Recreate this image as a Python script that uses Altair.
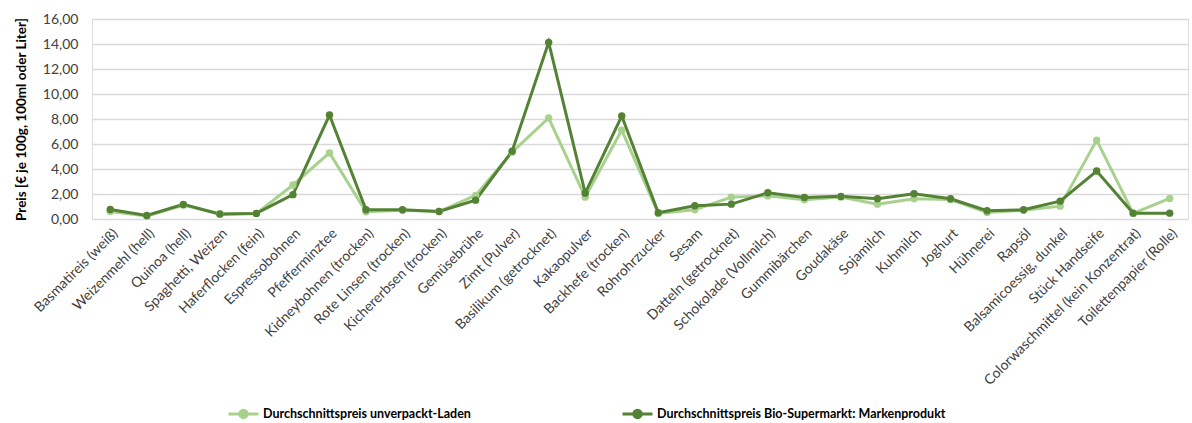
import altair as alt
import pandas as pd

categories = [
    "Basmatireis (weiß)", "Weizenmehl (hell)", "Quinoa (hell)", "Spaghetti, Weizen",
    "Haferflocken (fein)", "Espressobohnen", "Pfefferminztee", "Kidneybohnen (trocken)",
    "Rote Linsen (trocken)", "Kichererbsen (trocken)", "Gemüsebrühe", "Zimt (Pulver)",
    "Basilikum (getrocknet)", "Kakaopulver", "Backhefe (trocken)", "Rohrohrzucker",
    "Sesam", "Datteln (getrocknet)", "Schokolade (Vollmilch)", "Gummibärchen",
    "Goudakäse", "Sojamilch", "Kuhmilch", "Joghurt", "Hühnerei", "Rapsöl",
    "Balsamicoessig, dunkel", "Stück Handseife", "Colorwaschmittel (kein Konzentrat)",
    "Toilettenpapier (Rolle)",
]

unverpackt = [0.60, 0.25, 1.10, 0.45, 0.45, 2.72, 5.29, 0.58, 0.70, 0.60,
              1.89, 5.35, 8.08, 1.75, 7.11, 0.45, 0.74, 1.75, 1.85, 1.54,
              1.75, 1.19, 1.62, 1.55, 0.52, 0.70, 1.03, 6.31, 0.45, 1.65]

bio = [0.76, 0.28, 1.17, 0.39, 0.45, 1.95, 8.32, 0.74, 0.74, 0.60,
       1.51, 5.43, 14.13, 2.07, 8.24, 0.50, 1.06, 1.19, 2.10, 1.73,
       1.81, 1.62, 2.02, 1.62, 0.66, 0.74, 1.43, 3.84, 0.47, 0.47]

series_names = ["Durchschnittspreis unverpackt-Laden",
                "Durchschnittspreis Bio-Supermarkt: Markenprodukt"]
series_colors = ["#A9D18E", "#548235"]

rows = []
for i, c in enumerate(categories):
    rows.append({"Produkt": c, "Serie": series_names[0], "Preis": unverpackt[i], "ord": 0})
for i, c in enumerate(categories):
    rows.append({"Produkt": c, "Serie": series_names[1], "Preis": bio[i], "ord": 1})
df = pd.DataFrame(rows)

font = "Lato"

x = alt.X("Produkt:N", sort=categories, title=None,
          scale=alt.Scale(type="point", padding=0.5),
          axis=alt.Axis(labelAngle=-45, labelFontSize=14, labelColor="#404040",
                        labelFont=font, ticks=False, domain=False, grid=False,
                        labelPadding=7, labelLimit=300))
y = alt.Y("Preis:Q", title="Preis [€ je 100g, 100ml oder Liter]",
          scale=alt.Scale(domain=[0, 16], nice=False),
          axis=alt.Axis(values=[0, 2, 4, 6, 8, 10, 12, 14, 16],
                        labelExpr="replace(format(datum.value, '.2f'), '.', ',')",
                        labelFontSize=14, labelColor="#404040", labelFont=font,
                        ticks=False, domain=False, gridColor="#D9D9D9", gridWidth=1.5,
                        titleFont=font, titleFontSize=13.5, titleFontWeight="bold",
                        titleColor="#000000", titlePadding=14, labelPadding=14))
color = alt.Color("Serie:N", sort=series_names,
                  scale=alt.Scale(domain=series_names, range=series_colors),
                  legend=alt.Legend(
                      title=None, orient="none", direction="horizontal",
                      legendX=135, legendY=378,
                      labelFont=font, labelFontSize=12.5, labelFontWeight="bold",
                      labelColor="#000000", labelLimit=500,
                      symbolType="M-1,0L1,0M-0.25,0A0.25,0.25 0 1,1 0.25,0A0.25,0.25 0 1,1 -0.25,0Z",
                      symbolSize=900, symbolStrokeWidth=3,
                      columnPadding=145, labelOffset=3))

base = alt.Chart(df).encode(x=x, y=y, color=color, order=alt.Order("ord:Q"))

lines = base.mark_line(strokeWidth=3)
points = base.mark_point(filled=True, size=55, opacity=1)

chart = alt.layer(lines, points).properties(
    width=1096, height=200,
    autosize=alt.AutoSizeParams(type="none"),
    padding={"left": 92, "top": 19, "right": 4, "bottom": 204},
).configure_view(stroke=None).configure(background="white")

chart.save("out.html", embed_options={"renderer": "svg", "actions": False})
